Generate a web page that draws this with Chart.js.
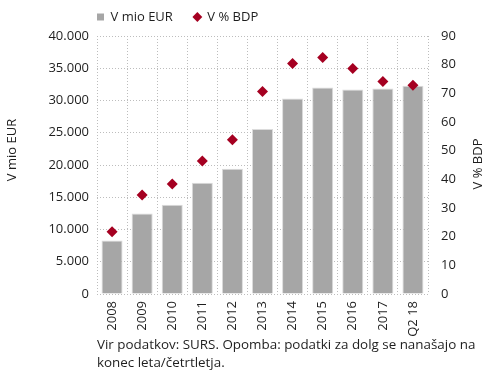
<!DOCTYPE html>
<html>
<head>
<meta charset="utf-8">
<script src="https://cdn.jsdelivr.net/npm/chart.js@4/dist/chart.umd.min.js"></script>
<style>
  html, body { margin: 0; padding: 0; background: #fff; }
  #wrap { position: relative; width: 490px; height: 374px; }
  #note { position: absolute; left: 97px; top: 335px; font: 13.4px "Open Sans", sans-serif; line-height: 18px; color: #1e1e1e; white-space: nowrap; }
</style>
</head>
<body>
<div id="wrap">
  <canvas id="debtChart" width="490" height="374"></canvas>
  <div id="note">Vir podatkov: SURS. Opomba: podatki za dolg se nanašajo na<br>konec leta/četrtletja.</div>
</div>
<script>
// kategorije in serije
var years = ['2008', '2009', '2010', '2011', '2012', '2013', '2014', '2015', '2016', '2017', 'Q2 18'];
var debtMioEur = [8300, 12500, 13850, 17250, 19400, 25600, 30300, 32000, 31700, 31850, 32300];
var debtPctBdp = [21.7, 34.5, 38.4, 46.4, 53.8, 70.6, 80.4, 82.5, 78.7, 74.1, 72.8];
var leftTitle = 'V mio EUR';
var rightTitle = 'V % BDP';

var fontFam = '"Open Sans", sans-serif';
var txtColor = '#1e1e1e';
var gridColor = '#BDBDBD';

function fmtThousands(v) {
    return String(v).replace(/\B(?=(\d{3})+(?!\d))/g, '.');
}

// ── legend position + axis titles (both read bottom-up) ──
var layoutFix = {
    id: 'layoutFix',
    afterLayout: function(chart) {
        var l = chart.legend;
        if (!l) return;
        l.left = 76;
        l.top = -10.5;
    },
    afterDraw: function(chart) {
        var c = chart.ctx;
        c.save();
        c.fillStyle = txtColor;
        c.font = '13px ' + fontFam;
        c.textAlign = 'center';
        c.textBaseline = 'middle';
        c.translate(12, 150);
        c.rotate(-Math.PI / 2);
        c.fillText(leftTitle, 0, 0);
        c.restore();
        c.save();
        c.fillStyle = txtColor;
        c.font = '13px ' + fontFam;
        c.textAlign = 'center';
        c.textBaseline = 'middle';
        c.translate(478, 164);
        c.rotate(-Math.PI / 2);
        c.fillText(rightTitle, 0, 0);
        c.restore();
    }
};

var ctx = document.getElementById('debtChart').getContext('2d');
new Chart(ctx, {
    data: {
        labels: years,
        datasets: [
            { type: 'bar', label: 'V mio EUR', data: debtMioEur, yAxisID: 'y', backgroundColor: '#A6A6A6', borderColor: '#DCDCDC', borderWidth: 1, barPercentage: 0.7, categoryPercentage: 1, order: 2 },
            { type: 'line', label: 'V % BDP', data: debtPctBdp, yAxisID: 'y1', showLine: false, pointStyle: 'rectRot', pointRadius: 5.5, pointHoverRadius: 5.5, backgroundColor: '#A50021', borderColor: '#A50021', borderWidth: 0, order: 1 }
        ]
    },
    options: {
        responsive: false,
        animation: false,
        layout: { padding: { left: 4, right: 4, top: 2, bottom: 38 } },
        plugins: {
            legend: {
                position: 'top', align: 'start', maxHeight: 34,
                labels: {
                    usePointStyle: true, boxWidth: 7, boxHeight: 7, padding: 21, color: txtColor,
                    font: { family: fontFam, size: 13 },
                    sort: function(a, b) { return a.datasetIndex - b.datasetIndex; },
                    generateLabels: function(chart) {
                        var items = Chart.defaults.plugins.legend.labels.generateLabels(chart);
                        items.forEach(function(it) {
                            it.pointStyle = it.datasetIndex === 0 ? 'rect' : 'rectRot';
                            it.lineWidth = 0;
                        });
                        return items;
                    }
                }
            },
            tooltip: { enabled: false }
        },
        scales: {
            x: {
                offset: true,
                grid: { offset: true, color: gridColor, lineWidth: 1, drawTicks: false },
                border: { display: false, dash: [1, 2] },
                ticks: { minRotation: 90, maxRotation: 90, padding: 7, color: txtColor, font: { family: fontFam, size: 13 } },
                afterFit: function(s) { s.height = 42; }
            },
            y: {
                position: 'left', min: 0, max: 40000,
                ticks: { stepSize: 5000, padding: 8, color: txtColor, font: { family: fontFam, size: 13 }, callback: function(v) { return fmtThousands(v); } },
                grid: { color: gridColor, lineWidth: 1, drawTicks: false },
                border: { display: false, dash: [1, 2] },
                afterFit: function(s) { s.width = 93; }
            },
            y1: {
                position: 'right', min: 0, max: 90,
                ticks: { stepSize: 10, padding: 13, color: txtColor, font: { family: fontFam, size: 13 } },
                grid: { display: false, drawTicks: false },
                border: { display: false },
                afterFit: function(s) { s.width = 58; }
            }
        }
    },
    plugins: [layoutFix]
});
</script>
</body>
</html>
